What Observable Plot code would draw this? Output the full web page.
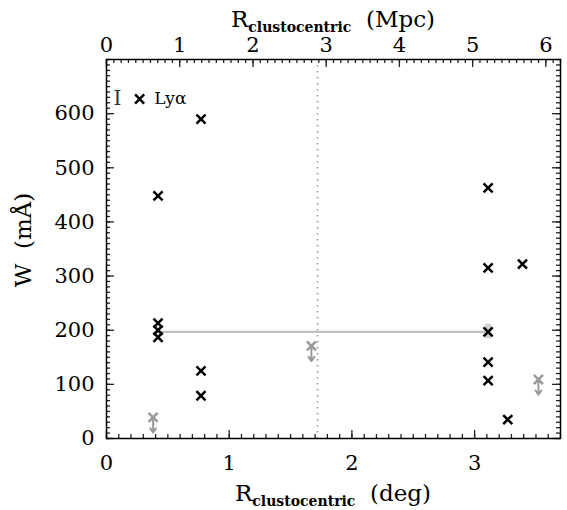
<!DOCTYPE html>
<html>
<head>
<meta charset="utf-8">
<script src="https://cdn.jsdelivr.net/npm/d3@7"></script>
<script src="https://cdn.jsdelivr.net/npm/@observablehq/plot@0.6"></script>
<style>
  html, body { margin: 0; padding: 0; background: #fff; }
  #chart { position: relative; width: 567px; height: 510px; }
  #chart svg { display: block; }
  #chart svg.overlay { position: absolute; left: 0; top: 0; pointer-events: none; }
</style>
</head>
<body>
<div id="chart"></div>
<script>
// Detections (black crosses): clustocentric radius (deg) and equivalent width W (mÅ)
const detDeg = [0.77, 0.42, 0.42, 0.42, 0.42, 0.77, 0.77, 3.11, 3.11, 3.11, 3.11, 3.11, 3.39, 3.27];
const detW   = [590, 448, 213, 200, 187, 125, 79, 463, 315, 197, 141, 107, 322, 35];

// Upper limits (grey crosses with downward arrows)
const limDeg = [0.38, 1.67, 3.52];
const limW   = [39, 171, 109];

// Grey horizontal segment
const segDeg = [0.42, 3.11];
const segW   = [197, 197];
// Grey bar at the segment's end
const barDeg = [3.11];
const barW1  = [184];
const barW2  = [211];

// Dotted vertical reference line (deg)
const refDeg = [1.72];

// Legend (typical error bar + symbol + label)
const legDeg = [0.09, 0.27, 0.39];
const legW   = [627];
const legLabel = "Lyα";

// Axes
const degTicks = [0, 1, 2, 3];
const wTicks = [0, 100, 200, 300, 400, 500, 600];
const mpcTicks = [0, 1, 2, 3, 4, 5, 6];
const degDomain = [0, 3.7];
const mpcDomain = [0, 6.2];
const wDomain = [0, 700];
const mpcPerDeg = mpcDomain[1] / degDomain[1];

const degMinor = d3.range(0, 3.7001, 0.1);
const mpcMinor = d3.range(0, 6.2001, 0.1).map(m => m / mpcPerDeg);
const mpcMajor = mpcTicks.map(m => m / mpcPerDeg);
const wMinor = d3.range(0, 700.001, 10);

const dets = detDeg.map((d, i) => ({deg: d, W: detW[i]}));
const lims = limDeg.map((d, i) => ({deg: d, W: limW[i]}));

const font = "DejaVu Serif";
const black = "#000";
const grey = "#999";

const WIDTH = 567, HEIGHT = 510, mL = 106, mR = 7, mT = 59, mB = 72;
const fw = WIDTH - mL - mR, fh = HEIGHT - mT - mB;

// inward ticks as inset rules
function ticksX(values, anchor, len) {
  const opts = {x: d => d, stroke: "#222", strokeWidth: 1.3};
  if (anchor === "bottom") opts.insetTop = fh - len; else opts.insetBottom = fh - len;
  return Plot.ruleX(values, opts);
}
function ticksY(values, anchor, len) {
  const opts = {y: d => d, stroke: "#222", strokeWidth: 1.3};
  if (anchor === "left") opts.insetRight = fw - len; else opts.insetLeft = fw - len;
  return Plot.ruleY(values, opts);
}

const dims = {
  width: WIDTH, height: HEIGHT,
  marginLeft: mL, marginRight: mR, marginTop: mT, marginBottom: mB
};

const chart = Plot.plot({
  ...dims,
  x: {domain: degDomain},
  y: {domain: wDomain},
  style: {fontFamily: font, fontSize: "21px", background: "#fff", color: "#000"},
  marks: [
    // reference dotted line
    Plot.ruleX(refDeg, {x: d => d, stroke: grey, strokeWidth: 1.6, strokeDasharray: "1.6,4.4"}),
    // grey segment
    Plot.line(segDeg.map((d, i) => ({deg: d, W: segW[i]})), {x: "deg", y: "W", stroke: "#c0c0c0", strokeWidth: 2.2}),
    Plot.ruleX(barDeg.map((d, i) => ({deg: d, a: barW1[i], b: barW2[i]})), {x: "deg", y1: "a", y2: "b", stroke: "#cfcfcf", strokeWidth: 6}),
    // upper limits
    Plot.arrow(lims, {x1: "deg", y1: "W", x2: "deg", y2: d => d.W - 28, stroke: grey, strokeWidth: 2, headLength: 6, headAngle: 70}),
    Plot.dot(lims, {x: "deg", y: "W", symbol: "times", r: 4.2, stroke: grey, strokeWidth: 2.5}),
    // detections
    Plot.dot(dets, {x: "deg", y: "W", symbol: "times", r: 4.2, stroke: black, strokeWidth: 2.5}),
    // legend
    Plot.text([{deg: legDeg[0], W: legW[0]}], {x: "deg", y: "W", text: () => "I", fill: "#333", fontSize: 20, fontFamily: font}),
    Plot.dot([{deg: legDeg[1], W: legW[0]}], {x: "deg", y: "W", symbol: "times", r: 4.2, stroke: black, strokeWidth: 2.5}),
    Plot.text([{deg: legDeg[2], W: legW[0]}], {x: "deg", y: "W", text: () => legLabel, textAnchor: "start", fill: black, fontSize: 17, fontFamily: font}),

    // tick labels
    Plot.axisX({anchor: "bottom", ticks: degTicks, tickSize: 0, tickPadding: 17, label: null, tickFormat: d3.format("d"), fontSize: 21}),
    Plot.axisX({anchor: "top", ticks: mpcMajor, tickSize: 0, tickPadding: 8, label: null, tickFormat: d => String(Math.round(d * mpcPerDeg)), fontSize: 21}),
    Plot.axisY({anchor: "left", ticks: wTicks, tickSize: 0, tickPadding: 12, label: null, tickFormat: d3.format("d"), fontSize: 21})
  ]
});

// Frame and inward ticks, drawn with the same scales on a transparent overlay (no default axes)
const frameTicks = Plot.plot({
  ...dims,
  x: {domain: degDomain, axis: null},
  y: {domain: wDomain, axis: null},
  style: {background: "transparent"},
  marks: [
    ticksX(degTicks, "bottom", 8), ticksX(degMinor, "bottom", 4),
    ticksX(mpcMajor, "top", 8), ticksX(mpcMinor, "top", 4),
    ticksY(wTicks, "left", 8), ticksY(wMinor, "left", 4),
    ticksY(wTicks, "right", 8), ticksY(wMinor, "right", 4),
    Plot.frame({stroke: black, strokeWidth: 1.5})
  ]
});
frameTicks.classList.add("overlay");

const holder = document.getElementById("chart");
holder.appendChild(chart);
holder.appendChild(frameTicks);

// Axis titles with subscripts
const svg = d3.select(chart);
function title(x, y, rotate, main, sub, unit) {
  const t = svg.append("text")
    .attr("transform", `translate(${x},${y}) rotate(${rotate})`)
    .attr("text-anchor", "middle")
    .attr("font-family", font)
    .attr("font-size", 23)
    .attr("fill", "#000");
  t.append("tspan").text(main);
  if (sub) {
    t.append("tspan").attr("font-size", 14).attr("font-weight", "bold").attr("dy", 5).text(sub);
    t.append("tspan").attr("dy", -5).text("\u00a0\u00a0" + unit);
  } else {
    t.append("tspan").text(unit);
  }
}
title(333, 501, 0, "R", "clustocentric", "(deg)");
title(333, 27, 0, "R", "clustocentric", "(Mpc)");
title(31, 240, -90, "W\u00a0\u00a0", null, "(mÅ)");
</script>
</body>
</html>
